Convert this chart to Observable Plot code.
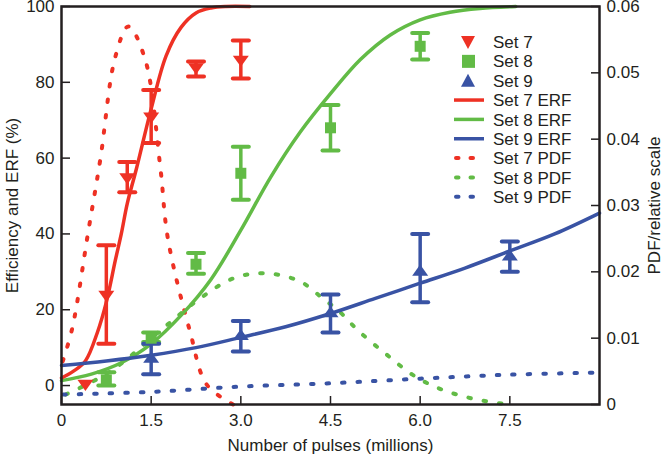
<!DOCTYPE html>
<html><head><meta charset="utf-8">
<script src="https://cdn.jsdelivr.net/npm/d3@7"></script>
<script src="https://cdn.jsdelivr.net/npm/@observablehq/plot@0.6"></script>
<style>
body{margin:0;background:#fff;}
#wrap{position:relative;width:662px;height:455px;font-family:"Liberation Sans",Arial,Helvetica,sans-serif;}
#legend{position:absolute;left:0;top:0;pointer-events:none;}
</style></head><body><div id="wrap"></div>
<script>
// ---- Data ----
// measured points (x in millions of pulses, efficiency %)
const set7X  = [0.4, 0.75, 1.1, 1.5, 2.25, 3.0];
const set7Y  = [0.5, 24, 55, 71, 84, 86];
const set7Lo = [0.5, 11, 51, 64, 81.5, 81];
const set7Hi = [0.5, 37, 59, 78, 85.5, 91];

const set8X  = [0.75, 1.5, 2.25, 3.0, 4.5, 6.0];
const set8Y  = [1.5, 12.5, 32, 56, 68, 89.5];
const set8Lo = [0, 11.5, 29.5, 49, 62, 86];
const set8Hi = [3.5, 14, 35, 63, 74, 93];

const set9X  = [1.5, 3.0, 4.5, 6.0, 7.5];
const set9Y  = [7, 13, 19, 30, 34];
const set9Lo = [3, 9, 14, 22, 30];
const set9Hi = [11, 17, 24, 40, 38];

// ERF curves (%)
const erf7X = [0, 0.2, 0.4, 0.6, 0.75, 0.9, 1.0, 1.1, 1.25, 1.5, 1.75, 2.0, 2.25, 2.5, 2.75, 3.15];
const erf7Y = [2, 3.8, 6.5, 14, 22, 33, 40, 48, 57, 73, 87, 94.5, 98.3, 99.6, 100, 100];
const erf8X = [0, 0.5, 1.0, 1.5, 2.0, 2.5, 3.0, 3.5, 4.0, 4.5, 5.0, 5.5, 6.0, 6.5, 7.0, 7.6];
const erf8Y = [1.3, 3, 6, 11, 18.5, 28, 41, 55, 67, 77, 86, 92.5, 96.5, 98.5, 99.5, 100];
const erf9X = [0, 0.75, 1.5, 2.25, 3.0, 3.75, 4.5, 5.25, 6.0, 6.75, 7.5, 8.25, 9.0];
const erf9Y = [5.3, 6.5, 8, 10, 12.7, 15.5, 19, 23, 27, 31, 35.5, 40, 45.5];

// PDF curves (right axis, relative scale)
const pdf7X = [0.02, 0.18, 0.45, 0.65, 0.9, 1.12, 1.4, 1.65, 1.78, 2.15, 2.43, 2.87];
const pdf7Y = [0.0065, 0.0115, 0.0262, 0.037, 0.0524, 0.057, 0.052, 0.036, 0.025, 0.011, 0.003, 0.0];
const pdf8X = [0.07, 0.82, 1.7, 2.32, 2.87, 3.37, 3.98, 4.37, 4.65, 4.98, 5.43, 5.87, 6.32, 6.87, 7.47];
const pdf8Y = [0.0015, 0.005, 0.0115, 0.016, 0.019, 0.0198, 0.0186, 0.016, 0.014, 0.011, 0.0076, 0.0045, 0.0024, 0.0009, 0.0];
const pdf9X = [0.03, 1.5, 3.0, 4.5, 6.0, 7.5, 9.0];
const pdf9Y = [0.0015, 0.0019, 0.0027, 0.0032, 0.0039, 0.0045, 0.0048];

// ticks
const xTicks = [0, 1.5, 3.0, 4.5, 6.0, 7.5];
const xTickLabels = ["0", "1.5", "3.0", "4.5", "6.0", "7.5"];
const yTicks = [0, 20, 40, 60, 80, 100];
const yTickLabels = ["0", "20", "40", "60", "80", "100"];
const pdfTicks = [0, 0.01, 0.02, 0.03, 0.04, 0.05, 0.06];
const pdfTickLabels = ["0", "0.01", "0.02", "0.03", "0.04", "0.05", "0.06"];

const legendLabels = ["Set 7", "Set 8", "Set 9", "Set 7 ERF", "Set 8 ERF", "Set 9 ERF", "Set 7 PDF", "Set 8 PDF", "Set 9 PDF"];

// ---- styling ----
const RED = "#ee3124", GREEN = "#62bb46", BLUE = "#3953a4", INK = "#231f20";
const Y0 = -5.0, YMAX = 100, PDFMAX = 0.06;
const pdfToY = v => Y0 + v * (YMAX - Y0) / PDFMAX;

const pts = (xs, ys, lo, hi) => xs.map((x, i) => ({x, y: ys[i], lo: lo ? lo[i] : null, hi: hi ? hi[i] : null}));
const s7 = pts(set7X, set7Y, set7Lo, set7Hi);
const s8 = pts(set8X, set8Y, set8Lo, set8Hi);
const s9 = pts(set9X, set9Y, set9Lo, set9Hi);
const e7 = pts(erf7X, erf7Y), e8 = pts(erf8X, erf8Y), e9 = pts(erf9X, erf9Y);
const p7 = pdf7X.map((x, i) => ({x, y: pdfToY(pdf7Y[i])}));
const p8 = pdf8X.map((x, i) => ({x, y: pdfToY(pdf8Y[i])}));
const p9 = pdf9X.map((x, i) => ({x, y: pdfToY(pdf9Y[i])}));

const capSymbol = {draw(ctx, size) { const r = Math.sqrt(size / Math.PI); ctx.moveTo(-r, 0); ctx.lineTo(r, 0); }};
const triDown = {draw(ctx, size) { const r = Math.sqrt(size / Math.PI); const h = r * 0.87; ctx.moveTo(-r, -h * 0.55); ctx.lineTo(r, -h * 0.55); ctx.lineTo(0, h * 1.05); ctx.closePath(); }};
const triUp = {draw(ctx, size) { const r = Math.sqrt(size / Math.PI); const h = r * 0.87; ctx.moveTo(-r, h * 0.55); ctx.lineTo(r, h * 0.55); ctx.lineTo(0, -h * 1.05); ctx.closePath(); }};
const sq = {draw(ctx, size) { const r = Math.sqrt(size / Math.PI); ctx.rect(-r, -r, 2 * r, 2 * r); }};

const xLab = new Map(xTicks.map((t, i) => [t, xTickLabels[i]]));
const yLab = new Map(yTicks.map((t, i) => [t, yTickLabels[i]]));
const pdfPos = pdfTicks.map(pdfToY);
const pLab = new Map(pdfPos.map((t, i) => [t, pdfTickLabels[i]]));

function errMarks(data, color) {
  const withBars = data.filter(d => d.hi > d.lo);
  return [
    Plot.ruleX(withBars, {x: "x", y1: "lo", y2: "hi", stroke: color, strokeWidth: 3.5}),
    Plot.dot(withBars, {x: "x", y: "lo", symbol: capSymbol, r: 8, stroke: color, strokeWidth: 4, strokeLinecap: "round"}),
    Plot.dot(withBars, {x: "x", y: "hi", symbol: capSymbol, r: 8, stroke: color, strokeWidth: 4, strokeLinecap: "round"})
  ];
}

const dotted = {strokeWidth: 4, strokeDasharray: "2.5,13", strokeLinecap: "round", curve: "catmull-rom"};
const solid = {strokeWidth: 3.5, curve: "catmull-rom"};

const chart = Plot.plot({
  width: 662, height: 455,
  marginLeft: 61, marginRight: 63, marginTop: 6, marginBottom: 51,
  style: {fontFamily: "'Liberation Sans', Arial, Helvetica, sans-serif", fontSize: "17px", color: INK, background: "white", overflow: "visible"},
  x: {domain: [0, 9]},
  y: {domain: [Y0, YMAX]},
  marks: [
    Plot.line(p7, {x: "x", y: "y", stroke: RED, ...dotted}),
    Plot.line(p8, {x: "x", y: "y", stroke: GREEN, ...dotted}),
    Plot.line(p9, {x: "x", y: "y", stroke: BLUE, ...dotted}),
    Plot.line(e8, {x: "x", y: "y", stroke: GREEN, ...solid}),
    Plot.line(e7, {x: "x", y: "y", stroke: RED, ...solid}),
    Plot.line(e9, {x: "x", y: "y", stroke: BLUE, ...solid}),
    ...errMarks(s7, RED), ...errMarks(s8, GREEN), ...errMarks(s9, BLUE),
    Plot.dot(s7, {x: "x", y: "y", symbol: triDown, r: 8, fill: RED}),
    Plot.dot(s8, {x: "x", y: "y", symbol: sq, r: 5.5, fill: GREEN}),
    Plot.dot(s9, {x: "x", y: "y", symbol: triUp, r: 8, fill: BLUE}),
    Plot.axisX(xTicks, {tickSize: -8, tickPadding: 17, stroke: INK, strokeWidth: 1.5, tickFormat: d => xLab.get(d),
      label: "Number of pulses (millions)", labelAnchor: "center", labelOffset: 46.5, labelArrow: "none"}),
    Plot.axisY(yTicks, {anchor: "left", tickSize: -9, tickPadding: 16, stroke: INK, strokeWidth: 1.5, tickFormat: d => yLab.get(d),
      label: "Efficiency and ERF (%)", labelAnchor: "center", labelOffset: 56, labelArrow: "none"}),
    Plot.axisY(pdfPos, {anchor: "right", tickSize: -9, tickPadding: 16, stroke: INK, strokeWidth: 1.5, tickFormat: d => pLab.get(d),
      label: "PDF/relative scale", labelAnchor: "center", labelOffset: 60, labelArrow: "none"}),
    Plot.frame({stroke: INK, strokeWidth: 2.5})
  ]
});
const wrap = document.getElementById("wrap");
wrap.appendChild(chart);

// ---- legend overlay ----
const lg = d3.select(wrap).append("svg").attr("id", "legend").attr("width", 662).attr("height", 455);
const rowY = i => 42 + i * 19.35;
const colors = [RED, GREEN, BLUE];
legendLabels.forEach((lab, i) => {
  const y = rowY(i), c = colors[i % 3];
  const g = lg.append("g");
  if (i === 0) g.append("path").attr("d", `M${461},${y - 6}L${475},${y - 6}L${468},${y + 7}Z`).attr("fill", c);
  else if (i === 1) g.append("rect").attr("x", 462).attr("y", y - 6.5).attr("width", 13).attr("height", 13).attr("fill", c);
  else if (i === 2) g.append("path").attr("d", `M${461},${y + 6}L${475},${y + 6}L${468},${y - 7}Z`).attr("fill", c);
  else if (i < 6) g.append("line").attr("x1", 454).attr("x2", 484).attr("y1", y).attr("y2", y).attr("stroke", c).attr("stroke-width", 3.5);
  else g.append("line").attr("x1", 456).attr("x2", 484).attr("y1", y).attr("y2", y).attr("stroke", c).attr("stroke-width", 4)
        .attr("stroke-linecap", "round").attr("stroke-dasharray", "2.5,12");
  g.append("text").attr("x", 493).attr("y", y).attr("dy", "0.36em").attr("font-size", 17)
    .attr("font-family", "'Liberation Sans', Arial, Helvetica, sans-serif").attr("fill", INK).text(lab);
});
</script></body></html>
